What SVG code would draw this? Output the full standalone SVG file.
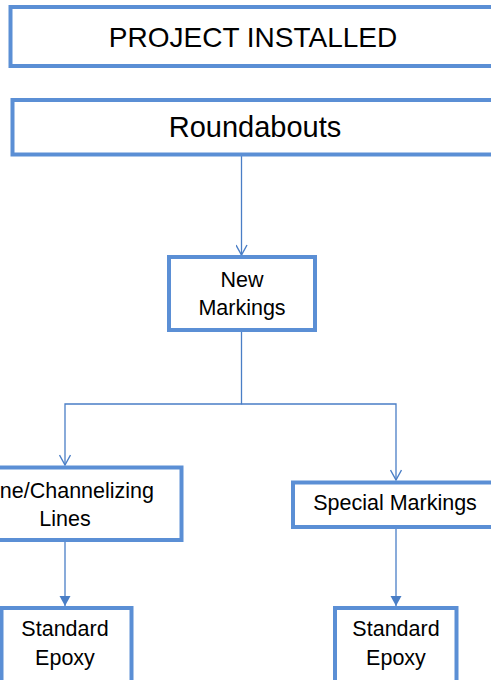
<svg xmlns="http://www.w3.org/2000/svg" width="491" height="680" viewBox="0 0 491 680">
  <style>
    .box { fill: #ffffff; stroke: #5B8FD5; stroke-width: 4; }
    .lbl { font-family: "Liberation Sans", Arial, sans-serif; fill: #000000; text-anchor: middle; }
    .big { font-size: 28px; }
    .mid { font-size: 29px; }
    .sm { font-size: 21.5px; }
    .wire { fill: none; stroke: #4A7EC6; stroke-width: 1.3; }
  </style>
  <defs>
    <!-- arrowheads drawn along +x so orient="auto" follows the line -->
    <marker id="open" viewBox="0 0 12 12" refX="11" refY="6" markerWidth="12" markerHeight="12" markerUnits="userSpaceOnUse" orient="auto">
      <path d="M1,0.5 L11,6 L1,11.5" fill="none" stroke="#4A7EC6" stroke-width="1.4"/>
    </marker>
    <marker id="solid" viewBox="0 0 12 12" refX="11" refY="6" markerWidth="12" markerHeight="12" markerUnits="userSpaceOnUse" orient="auto">
      <path d="M1,0.5 L11,6 L1,11.5 Z" fill="#4A7EC6"/>
    </marker>
  </defs>
  <rect width="491" height="680" fill="#ffffff"/>

  <!-- connectors -->
  <g id="connectors">
    <path class="wire" d="M241.5,156 V255" marker-end="url(#open)"/>
    <path class="wire" d="M241.5,332 V404 H65 V465" marker-end="url(#open)"/>
    <path class="wire" d="M241.5,404 H396 V480" marker-end="url(#open)"/>
    <path class="wire" d="M65,542 V606" marker-end="url(#solid)"/>
    <path class="wire" d="M396,529 V606" marker-end="url(#solid)"/>
  </g>

  <g id="project-installed">
    <rect class="box" x="10.5" y="7" width="490" height="59"/>
    <text class="lbl big" x="253" y="47">PROJECT INSTALLED</text>
  </g>

  <g id="roundabouts">
    <rect class="box" x="12.5" y="100" width="490" height="54.5"/>
    <text class="lbl mid" x="255" y="137">Roundabouts</text>
  </g>

  <g id="new-markings">
    <rect class="box" x="169" y="257" width="146" height="73"/>
    <text class="lbl sm" x="242" y="287">New</text>
    <text class="lbl sm" x="242" y="315">Markings</text>
  </g>

  <g id="channelizing-lines">
    <rect class="box" x="-51.5" y="467.5" width="233" height="72.5"/>
    <text class="lbl sm" x="154" y="498" style="text-anchor:end">ne/Channelizing</text>
    <text class="lbl sm" x="65" y="526">Lines</text>
  </g>

  <g id="special-markings">
    <rect class="box" x="293" y="482.5" width="206" height="44.5"/>
    <text class="lbl sm" x="395" y="510">Special Markings</text>
  </g>

  <g id="epoxy-left">
    <rect class="box" x="1.5" y="608" width="130" height="90"/>
    <text class="lbl sm" x="65" y="636">Standard</text>
    <text class="lbl sm" x="65" y="665">Epoxy</text>
  </g>

  <g id="epoxy-right">
    <rect class="box" x="335" y="608" width="121.5" height="90"/>
    <text class="lbl sm" x="396" y="636">Standard</text>
    <text class="lbl sm" x="396" y="665">Epoxy</text>
  </g>
</svg>
